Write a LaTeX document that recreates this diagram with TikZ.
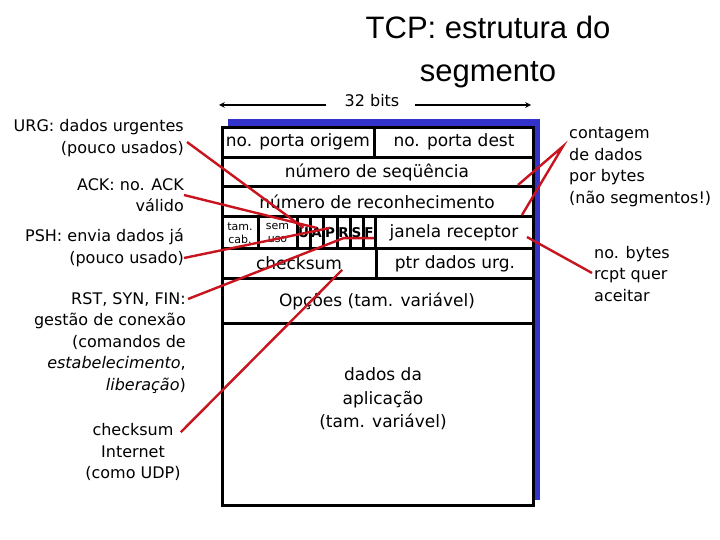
\documentclass[tikz,border=0pt]{standalone}
\usepackage{fontspec}
\setmainfont{DejaVu Sans}
\newfontfamily\titlefont{Liberation Sans}
\usetikzlibrary{calc}
\definecolor{shadowblue}{RGB}{51,51,204}
\definecolor{pointred}{RGB}{200,20,30}

\begin{document}
\begin{tikzpicture}[x=1pt, y=-1pt, >=stealth, line join=miter,
    field/.style={font=\fontsize{17}{23.5}\selectfont, inner sep=0pt},
    note/.style={font=\fontsize{16}{21.5}\selectfont, inner sep=0pt},
    tinyfield/.style={font=\fontsize{11}{13.5}\selectfont, inner sep=0pt, align=center},
    flagfield/.style={font=\bfseries\fontsize{13.5}{16}\selectfont, inner sep=0pt},
    frame/.style={line width=3pt},
    pointer/.style={pointred, line width=2.4pt}]
    \useasboundingbox (0,0) rectangle (720,540);

    % titulo
    \node[font=\titlefont\fontsize{31}{36}\selectfont] (title1) at (488,27) {TCP: estrutura do};
    \node[font=\titlefont\fontsize{31}{36}\selectfont] (title2) at (488,75) {segmento};

    % largura 32 bits
    \coordinate (wL) at (219,105);
    \coordinate (wR) at (531,105);
    \node[font=\fontsize{16}{19}\selectfont, inner sep=0pt] (bits) at (372,101) {32 bits};
    \draw[<-, line width=1.5pt] (wL) -- ($(bits.west |- wL)+(-18,0)$);
    \draw[->, line width=1.5pt] ($(bits.east |- wR)+(15,0)$) -- (wR);

    % segmento (sombra azul + caixa)
    \coordinate (S1) at (228,119);
    \coordinate (S2) at (540,500);
    \fill[shadowblue] (S1) rectangle (S2);
    \coordinate (B1) at (222,128);
    \coordinate (B2) at (533,505);
    \filldraw[fill=white, frame] (B1) rectangle (B2);
    \foreach \y in {158,187,217,248,278,323}
        \draw[frame] (222,\y) -- (533,\y);
    \draw[frame] (374,128) -- (374,158);
    \draw[frame] (376,248) -- (376,278);
    \foreach \x in {258,297,310,323,337,350,363,375}
        \draw[frame] (\x,217) -- (\x,248);

    % campos
    \node[field] (srcport) at (298,142) {no. porta origem};
    \node[field] (dstport) at (454,142) {no. porta dest};
    \node[field] (seqno) at (377,172) {número de seqüência};
    \node[field] (ackno) at (377,202) {número de reconhecimento};
    \node[tinyfield] (hlen) at (240,233) {tam.\\cab.};
    \node[tinyfield] (unused) at (277.5,233) {sem\\uso};
    \foreach \l/\x in {U/303.5, A/316.5, P/330, R/343.5, S/356.5, F/369}
        \node[flagfield] (flag\l) at (\x,233) {\l};
    \node[field] (rwnd) at (454,233) {janela receptor};
    \node[field] (cksum) at (299,263) {checksum};
    \node[field] (urgptr) at (455,264) {ptr dados urg.};
    \node[field] (opts) at (377,301) {Opções (tam. variável)};
    \node[field, align=center] (appdata) at (383,399) {dados da\\aplicação\\(tam. variável)};

    % notas a esquerda
    \node[note, align=right, anchor=east] (urg) at (184,138) {URG: dados urgentes\\(pouco usados)};
    \node[note, align=right, anchor=east] (ack) at (184,195) {ACK: no. ACK\\válido};
    \node[note, align=right, anchor=east] (psh) at (184,248) {PSH: envia dados já\\(pouco usado)};
    \node[note, align=right, anchor=east] (rst) at (186,343)
        {RST, SYN, FIN:\\gestão de conexão\\(comandos de\\\textit{estabelecimento},\\\textit{liberação})};
    \node[note, align=center] (inetck) at (133,452) {checksum\\Internet\\(como UDP)};

    % notas a direita
    \node[note, align=left, anchor=west] (bytecount) at (569,167) {contagem\\de dados\\por bytes\\(não segmentos!)};
    \node[note, align=left, anchor=west] (rcvwin) at (594,274) {no. bytes\\rcpt quer\\aceitar};

    % setas vermelhas
    \coordinate (seqTip) at (518,185);
    \coordinate (ackTip) at (522,215);
    \coordinate (winTip) at (527,237);
    \draw[pointer] ($(urg.east)+(3,4)$) -- (flagU.north);
    \draw[pointer] (ack.east) -- (flagA.north);
    \draw[pointer] ($(psh.east)+(0,10)$) -- (flagP.north);
    \draw[pointer] ($(rst.east)+(2,-44)$) -- (flagR.south) -- (flagR.south -| flagF.east);
    \draw[pointer] ($(inetck.north east)+(0,9)$) -- (cksum.south east);
    \draw[pointer] (seqTip) -- ($(bytecount.north west)+(-6,19)$) -- (ackTip);
    \draw[pointer] ($(rcvwin.west)+(-2,-1)$) -- (winTip);
\end{tikzpicture}
\end{document}
